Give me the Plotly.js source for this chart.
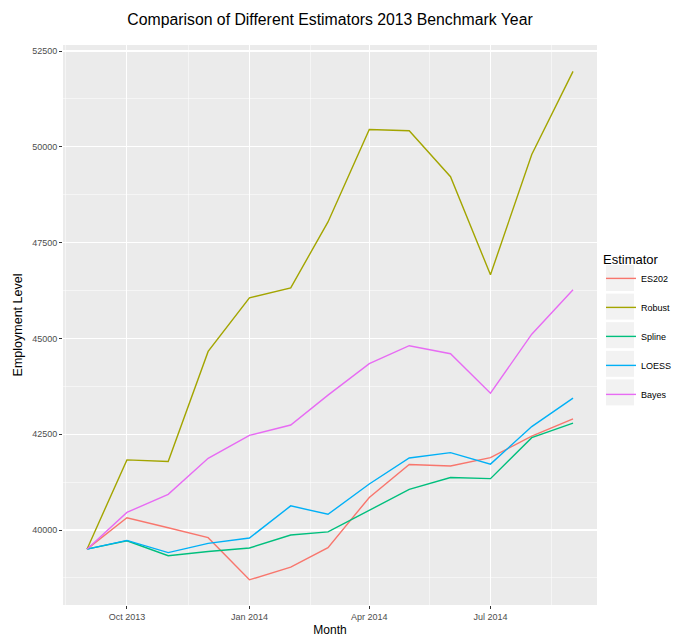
<!DOCTYPE html>
<html>
<head>
<meta charset="utf-8">
<script src="https://cdn.plot.ly/plotly-3.0.1.min.js"></script>
<style>
  html, body { margin: 0; padding: 0; background: #ffffff; }
  #chart { width: 674px; height: 637px; }
</style>
</head>
<body>
<div id="chart"></div>
<script>
// Monthly observations, Sep 2013 – Sep 2014
const months = [
  '2013-09-01', '2013-10-01', '2013-11-01', '2013-12-01',
  '2014-01-01', '2014-02-01', '2014-03-01', '2014-04-01',
  '2014-05-01', '2014-06-01', '2014-07-01', '2014-08-01', '2014-09-01'
];

const estimatorNames = ['ES202', 'Robust', 'Spline', 'LOESS', 'Bayes'];

const es202  = [39500, 40320, 40060, 39800, 38700, 39030, 39540, 40850, 41710, 41670, 41890, 42450, 42900];
const robust = [39500, 41830, 41790, 44660, 46060, 46320, 48040, 50450, 50420, 49220, 46660, 49800, 51970];
const spline = [39500, 39720, 39330, 39440, 39530, 39870, 39950, 40520, 41060, 41370, 41340, 42410, 42790];
const loess  = [39500, 39730, 39410, 39650, 39790, 40630, 40410, 41200, 41880, 42020, 41720, 42700, 43440];
const bayes  = [39500, 40460, 40930, 41870, 42470, 42740, 43520, 44340, 44810, 44600, 43570, 45110, 46270];

const yTickVals = [40000, 42500, 45000, 47500, 50000, 52500];
const yTickText = ['40000', '42500', '45000', '47500', '50000', '52500'];

// ggplot2 default hue palette for five groups
const palette = ['#F8766D', '#A3A500', '#00BF7D', '#00B0F6', '#E76BF3'];
const series = [es202, robust, spline, loess, bayes];

const traces = series.map((vals, i) => ({
  type: 'scatter',
  mode: 'lines',
  x: months,
  y: vals,
  name: estimatorNames[i],
  legendgroup: 'g' + i,
  line: { color: palette[i], width: 1.4 },
  hoverinfo: 'x+y+name'
}));

// Plot-area geometry in pixels, used to place the legend and its key boxes
const W = 674, H = 637;
const M = { l: 63, r: 77, t: 45, b: 32 };
const plotW = W - M.l - M.r;
const plotH = H - M.t - M.b;
const px2x = px => (px - M.l) / plotW;
const px2y = py => 1 - (py - M.t) / plotH;

const legendLeft = 601;

// Grey key boxes behind each legend line
const keyTop = 265, keyStep = 28.6, keyH = 26;
const keyShapes = estimatorNames.map((_, i) => ({
  type: 'rect',
  xref: 'paper', yref: 'paper',
  x0: px2x(legendLeft + 5), x1: px2x(legendLeft + 33),
  y0: px2y(keyTop + i * keyStep), y1: px2y(keyTop + i * keyStep + keyH),
  fillcolor: '#F2F2F2',
  line: { width: 0 },
  layer: 'below'
}));

const layout = {
  width: W,
  height: H,
  margin: { l: M.l, r: M.r, t: M.t, b: M.b, autoexpand: false },
  paper_bgcolor: '#ffffff',
  plot_bgcolor: '#EBEBEB',
  font: { family: 'Liberation Sans, Arial, sans-serif', color: '#000000' },
  title: {
    text: 'Comparison of Different Estimators 2013 Benchmark Year',
    font: { size: 15.8, color: '#000000' },
    x: 0.5, xref: 'paper', xanchor: 'center',
    y: 0.97, yref: 'container', yanchor: 'middle'
  },
  xaxis: {
    type: 'date',
    range: ['2013-08-14', '2014-09-19'],
    tick0: '2013-10-01',
    dtick: 'M3',
    tickformat: '%b %Y',
    ticks: 'outside', ticklen: 3, tickwidth: 1, tickcolor: '#333333',
    tickfont: { size: 9, color: '#4D4D4D' },
    showgrid: true, gridcolor: '#FFFFFF', gridwidth: 1.1,
    minor: { showgrid: true, gridcolor: '#FFFFFF', gridwidth: 0.5, tick0: '2013-08-16', dtick: 'M3' },
    zeroline: false, showline: false,
    title: { text: 'Month', font: { size: 12, color: '#000000' }, standoff: 4 }
  },
  yaxis: {
    range: [38043, 52657],
    tickvals: yTickVals,
    ticktext: yTickText,
    ticks: 'outside', ticklen: 3, tickwidth: 1, tickcolor: '#333333',
    tickfont: { size: 9, color: '#4D4D4D' },
    showgrid: true, gridcolor: '#FFFFFF', gridwidth: 1.1,
    minor: { showgrid: true, gridcolor: '#FFFFFF', gridwidth: 0.5, tick0: 38750, dtick: 2500 },
    zeroline: false, showline: false,
    title: { text: 'Employment Level', font: { size: 12.5, color: '#000000' }, standoff: 6 }
  },
  showlegend: true,
  legend: {
    x: px2x(legendLeft), xanchor: 'left',
    y: px2y(247), yanchor: 'top',
    bgcolor: 'rgba(0,0,0,0)',
    font: { size: 9, color: '#000000' },
    title: { text: 'Estimator', font: { size: 13, color: '#000000' } },
    tracegroupgap: 10,
    itemwidth: 30
  },
  shapes: keyShapes
};

Plotly.newPlot('chart', traces, layout, { displayModeBar: false, staticPlot: true });
</script>
</body>
</html>
